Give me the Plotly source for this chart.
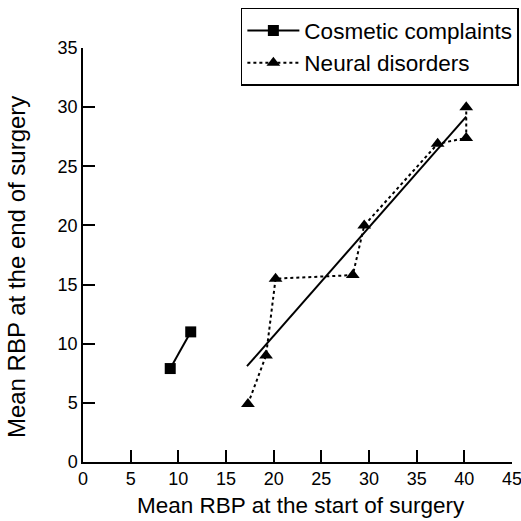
import plotly.graph_objects as go

cosmetic_x = [9.15, 11.3]
cosmetic_y = [7.9, 11.0]

neural_x = [17.3, 19.2, 20.2, 28.3, 29.5, 37.2, 40.2, 40.2]
neural_y = [4.9, 9.0, 15.5, 15.8, 20.0, 26.9, 27.4, 30.0]

fit_x = [17.2, 40.2]
fit_y = [8.1, 29.2]

x_ticks = [0, 5, 10, 15, 20, 25, 30, 35, 40, 45]
y_ticks = [0, 5, 10, 15, 20, 25, 30, 35]

x_title = "Mean RBP at the start of surgery"
y_title = "Mean RBP at the end of surgery"

fig = go.Figure()
fig.add_trace(go.Scatter(
    x=fit_x, y=fit_y, mode="lines",
    line=dict(color="black", width=2), showlegend=False, hoverinfo="skip"))
fig.add_trace(go.Scatter(
    x=cosmetic_x, y=cosmetic_y, mode="lines+markers", name="Cosmetic complaints",
    line=dict(color="black", width=2),
    marker=dict(symbol="square", size=11, color="black")))
fig.add_trace(go.Scatter(
    x=neural_x, y=neural_y, mode="lines+markers", name="Neural disorders",
    line=dict(color="black", width=2, dash="dot"),
    marker=dict(symbol="triangle-up", size=12, color="black")))

axis_font = dict(family="Liberation Sans, Arial, sans-serif", size=18, color="black")
fig.update_layout(
    width=521, height=521,
    margin=dict(l=83, r=9, t=48, b=59, autoexpand=False),
    paper_bgcolor="white", plot_bgcolor="white",
    font=dict(family="Liberation Sans, Arial, sans-serif", color="black"),
    legend=dict(
        x=0.368, y=1.097, xanchor="left", yanchor="top",
        bordercolor="black", borderwidth=1.5, bgcolor="white",
        font=dict(size=22.5, color="black"),
        itemwidth=52,
        tracegroupgap=0,
    ),
    xaxis=dict(
        range=[0, 45], tickvals=x_ticks, showgrid=False, zeroline=False,
        showline=True, linecolor="black", linewidth=1.5,
        ticks="inside", ticklen=12, tickwidth=1.5, tickcolor="black",
        tickfont=axis_font, ticklabeloverflow="allow",
    ),
    yaxis=dict(
        range=[0, 35], tickvals=y_ticks, showgrid=False, zeroline=False,
        showline=True, linecolor="black", linewidth=1.5,
        ticks="inside", ticklen=12, tickwidth=1.5, tickcolor="black",
        tickfont=axis_font,
    ),
    annotations=[
        dict(text=x_title, xref="paper", yref="paper", x=0.508, y=-0.104,
             xanchor="center", yanchor="middle", showarrow=False,
             font=dict(size=22.5, color="black")),
        dict(text=y_title, xref="paper", yref="paper", x=-0.156, y=0.471,
             xanchor="center", yanchor="middle", showarrow=False, textangle=-90,
             font=dict(size=24, color="black")),
    ],
)

fig.write_html("out.html", config={"displayModeBar": False},
               post_script="document.body.style.margin='0';")
